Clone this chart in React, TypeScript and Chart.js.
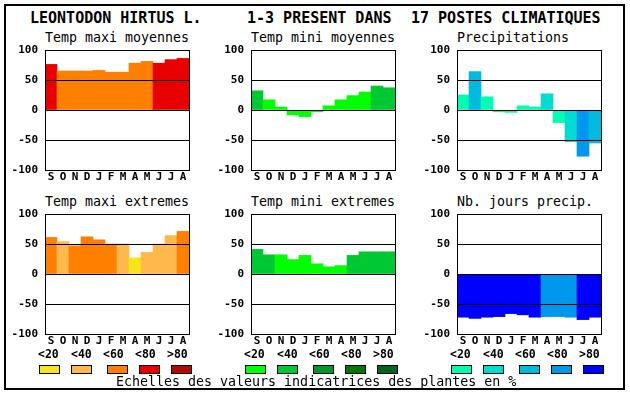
import React, { useEffect, useRef } from 'react';
import { Chart, registerables } from 'chart.js';
Chart.register(...registerables);

const FONT = '"DejaVu Sans Mono", "Liberation Mono", monospace';

const months = ['S', 'O', 'N', 'D', 'J', 'F', 'M', 'A', 'M', 'J', 'J', 'A'];
const legendLabels = ['<20', '<40', '<60', '<80', '>80'];

const warmColors = ['#F8E41A', '#FFB84C', '#FF8000', '#E80000', '#B00C00'];
const greenColors = ['#00FF00', '#00C832', '#009628', '#007800', '#006420'];
const blueColors = ['#00FFB4', '#00DCD2', '#00BAE0', '#0098EC', '#0000FF'];

// values (% scale) and class index (1..5 => <20 .. >80)
const tmaxMoy = [76, 65, 65, 65, 66, 63, 63, 78, 81, 78, 84, 86];
const tmaxMoyClass = [4, 3, 3, 3, 3, 3, 3, 3, 3, 4, 4, 4];

const tminMoy = [32, 17, 5, -8, -11, -3, 7, 17, 24, 30, 40, 37];
const tminMoyClass = [2, 1, 1, 1, 1, 1, 1, 1, 1, 1, 2, 2];

const precip = [25, 64, 22, -3, -4, 7, 5, 27, -21, -53, -77, -55];
const precipClass = [1, 3, 1, 1, 1, 1, 1, 2, 1, 2, 4, 3];

const tmaxExt = [61, 54, 47, 62, 57, 50, 50, 27, 36, 50, 64, 71];
const tmaxExtClass = [3, 2, 3, 3, 3, 3, 2, 1, 2, 2, 2, 3];

const tminExt = [41, 32, 32, 24, 31, 17, 12, 14, 31, 37, 37, 37];
const tminExtClass = [2, 2, 1, 1, 1, 1, 1, 1, 2, 2, 2, 2];

const nbJours = [-72, -74, -72, -71, -66, -68, -72, -71, -71, -72, -76, -72];
const nbJoursClass = [5, 5, 5, 5, 5, 5, 5, 4, 4, 4, 5, 5];

const PLOT_W = 144;
const PLOT_H = 120;
const AXIS_W = 45;

const tickFont = { family: FONT, size: 11, weight: 'bold', lineHeight: '12px' };

const framePlugin = {
  id: 'frame',
  afterDraw(chart: any) {
    const { ctx, chartArea } = chart;
    ctx.save();
    ctx.strokeStyle = '#000';
    ctx.lineWidth = 1;
    ctx.strokeRect(chartArea.left + 0.5, chartArea.top + 0.5, chartArea.right - chartArea.left, chartArea.bottom - chartArea.top);
    ctx.restore();
  },
};

function makeChart(canvas: HTMLCanvasElement, values: number[], classes: number[], palette: string[]) {
  return new Chart(canvas, {
    type: 'bar',
    data: {
      labels: months,
      datasets: [
        {
          data: values,
          backgroundColor: classes.map((c) => palette[c - 1]),
          borderWidth: 0,
          barPercentage: 1,
          categoryPercentage: 1,
        },
      ],
    },
    options: {
      responsive: false,
      animation: false,
      devicePixelRatio: 1,
      layout: { padding: { left: 0, right: 6, top: 8, bottom: 2 } },
      plugins: { legend: { display: false }, tooltip: { enabled: false }, title: { display: false } },
      scales: {
        x: {
          grid: { display: false, drawTicks: false },
          border: { display: false },
          ticks: { color: '#000', font: tickFont, padding: 1, maxRotation: 0, minRotation: 0, autoSkip: false },
        },
        y: {
          min: -100,
          max: 100,
          ticks: { stepSize: 50, color: '#000', font: tickFont, padding: 7 },
          grid: { color: '#000', lineWidth: 1, drawTicks: false, z: 1 },
          border: { display: false },
          afterFit: (s: any) => {
            s.width = AXIS_W;
          },
        },
      },
    } as any,
    plugins: [framePlugin],
  });
}

function Panel(props: { x0: number; y0: number; values: number[]; classes: number[]; palette: string[] }) {
  const ref = useRef<HTMLCanvasElement>(null);
  const { x0, y0, values, classes, palette } = props;
  useEffect(() => {
    const canvas = ref.current!;
    let w = 196;
    let h = 150;
    canvas.width = w;
    canvas.height = h;
    canvas.style.width = w + 'px';
    canvas.style.height = h + 'px';
    let chart: any = makeChart(canvas, values, classes, palette);
    for (let k = 0; k < 4; k++) {
      const a = chart.chartArea;
      const dw = PLOT_W - (a.right - a.left);
      const dh = PLOT_H - (a.bottom - a.top);
      if (Math.abs(dw) < 0.01 && Math.abs(dh) < 0.01) break;
      chart.destroy();
      w = Math.round(w + dw);
      h = Math.round(h + dh);
      canvas.width = w;
      canvas.height = h;
      canvas.style.width = w + 'px';
      canvas.style.height = h + 'px';
      chart = makeChart(canvas, values, classes, palette);
    }
    const a = chart.chartArea;
    canvas.style.left = Math.round(x0 - a.left) + 'px';
    canvas.style.top = Math.round(y0 - a.top) + 'px';
    return () => chart.destroy();
  }, []);
  return <canvas ref={ref} style={{ position: 'absolute', left: x0 - AXIS_W, top: y0 - 10 }} />;
}

const txt = (left: number, top: number, size: number, lh: number, bold: boolean): React.CSSProperties => ({
  position: 'absolute',
  left,
  top,
  fontFamily: FONT,
  fontSize: size,
  lineHeight: lh + 'px',
  fontWeight: bold ? 'bold' : 'normal',
  whiteSpace: 'pre',
  color: '#000',
});

const boxOffsets = [-6, 26, 62, 94, 126];
const labelOffsets = [-7, 26, 58, 90, 122];

function Legend(props: { x0: number; palette: string[] }) {
  const { x0, palette } = props;
  return (
    <>
      {legendLabels.map((l, i) => (
        <div key={'l' + i} style={txt(x0 + labelOffsets[i], 348, 11.5, 13, true)}>
          {l}
        </div>
      ))}
      {palette.map((c, i) => (
        <div
          key={'b' + i}
          style={{
            position: 'absolute',
            left: x0 + boxOffsets[i],
            top: 365,
            width: 21,
            height: 9,
            boxSizing: 'border-box',
            border: '1px solid #000',
            background: c,
          }}
        />
      ))}
    </>
  );
}

export default function App() {
  const cols = [45, 251, 457];
  const rows = [50, 214];
  return (
    <div style={{ position: 'absolute', left: 0, top: 0, width: 630, height: 394, background: '#fff', overflow: 'hidden' }}>
      <div
        style={{
          position: 'absolute',
          left: 4,
          top: 4,
          width: 621,
          height: 386,
          boxSizing: 'border-box',
          border: '2px solid #000',
        }}
      />
      <div style={txt(30, 9, 15, 18, true)}>LEONTODON HIRTUS L.</div>
      <div style={txt(247, 9, 15, 18, true)}>1-3 PRESENT DANS</div>
      <div style={txt(411, 9, 15, 18, true)}>17 POSTES CLIMATIQUES</div>

      <div style={txt(cols[0], 29.5, 13.3, 16, false)}>Temp maxi moyennes</div>
      <div style={txt(cols[1], 29.5, 13.3, 16, false)}>Temp mini moyennes</div>
      <div style={txt(cols[2], 29.5, 13.3, 16, false)}>Precipitations</div>
      <div style={txt(cols[0], 194, 13.3, 16, false)}>Temp maxi extremes</div>
      <div style={txt(cols[1], 194, 13.3, 16, false)}>Temp mini extremes</div>
      <div style={txt(cols[2], 194, 13.3, 16, false)}>Nb. jours precip.</div>

      <Panel x0={cols[0]} y0={rows[0]} values={tmaxMoy} classes={tmaxMoyClass} palette={warmColors} />
      <Panel x0={cols[1]} y0={rows[0]} values={tminMoy} classes={tminMoyClass} palette={greenColors} />
      <Panel x0={cols[2]} y0={rows[0]} values={precip} classes={precipClass} palette={blueColors} />
      <Panel x0={cols[0]} y0={rows[1]} values={tmaxExt} classes={tmaxExtClass} palette={warmColors} />
      <Panel x0={cols[1]} y0={rows[1]} values={tminExt} classes={tminExtClass} palette={greenColors} />
      <Panel x0={cols[2]} y0={rows[1]} values={nbJours} classes={nbJoursClass} palette={blueColors} />

      <Legend x0={cols[0]} palette={warmColors} />
      <Legend x0={cols[1]} palette={greenColors} />
      <Legend x0={cols[2]} palette={blueColors} />

      <div style={txt(116, 374, 13.3, 16, false)}>Echelles des valeurs indicatrices des plantes en %</div>
    </div>
  );
}
